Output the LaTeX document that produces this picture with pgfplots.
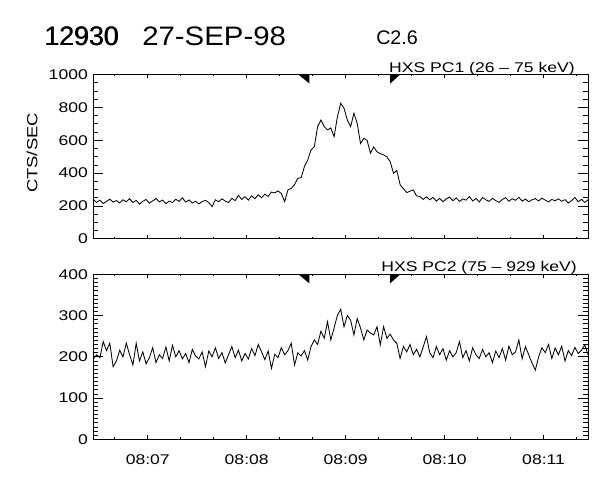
\documentclass[border=0pt]{standalone}
\usepackage{fontspec}
\setmainfont{Liberation Sans}[FakeStretch=1.25]
\newfontfamily\plainfont{Liberation Sans}
\newfontfamily\datefont{Liberation Sans}[FakeStretch=1.1]
\usepackage{pgfplots}
\pgfplotsset{compat=1.18}
\begin{document}
\begin{tikzpicture}
\path[use as bounding box] (0,0) rectangle (15cm,-12cm);
\pgfplotsset{
  hxs/.style={
    scale only axis, width=12.37cm, anchor=north west,
    xmin=0, xmax=300,
    axis line style={line width=0.7pt},
    tick style={black, line width=0.6pt},
    /pgf/number format/assume math mode=true,
    /pgf/number format/1000 sep={},
    tick label style={font=\fontsize{10}{11}\selectfont},
    yticklabel style={inner sep=0pt, xshift=-0.13cm},
    xticklabel style={inner sep=0pt, yshift=-0.37cm},
  },
  yaxisticks/.style={xtick=\empty, major tick length=7pt, minor tick length=3.5pt},
  xaxisticks/.style={ytick=\empty, xtick={33,93,153,213,273},
    minor xtick={13,53,73,113,133,173,193,233,253,293},
    major tick length=2.8pt, minor tick length=1.4pt},
}
% ---------------- top panel: PC1
\begin{axis}[hxs, yaxisticks, at={(2.333cm,-1.8625cm)}, height=4.11cm,
  ymin=0, ymax=1000, ytick={0,200,...,1000}, minor y tick num=3]
\addplot[black, line width=0.6pt, mark=none] coordinates {
(0,240)(2,222)(4,236)(6,215)(8,228)(10,242)(12,224)(14,233)(16,219)(18,238)
(20,226)(22,245)(24,221)(26,234)(28,212)(30,229)(32,240)(34,218)(36,231)(38,246)
(40,225)(42,236)(44,214)(46,230)(48,222)(50,241)(52,228)(54,250)(56,224)(58,237)
(60,218)(62,229)(64,213)(66,227)(68,235)(70,221)(72,196)(74,238)(76,226)(78,244)
(80,230)(82,221)(84,247)(86,233)(88,265)(90,240)(92,257)(94,236)(96,262)(98,245)
(100,268)(102,250)(104,272)(106,258)(108,285)(110,280)(112,292)(114,276)(116,227)(118,298)
(120,308)(122,330)(124,369)(126,372)(128,440)(130,480)(132,541)(134,561)(136,683)(138,723)
(140,683)(142,663)(144,675)(146,622)(148,743)(150,825)(152,795)(154,723)(156,683)(158,764)
(160,703)(162,580)(164,612)(166,600)(168,521)(170,560)(172,530)(174,519)(176,511)(178,499)
(180,470)(182,399)(184,417)(186,330)(188,305)(190,282)(192,290)(194,298)(196,262)(198,258)
(200,240)(202,256)(204,238)(206,252)(208,230)(210,247)(212,226)(214,244)(216,254)(218,232)
(220,249)(222,228)(224,243)(226,236)(228,258)(230,231)(232,246)(234,225)(236,252)(238,238)
(240,228)(242,247)(244,233)(246,222)(248,240)(250,251)(252,229)(254,244)(256,235)(258,253)
(260,230)(262,242)(264,226)(266,238)(268,245)(270,231)(272,248)(274,236)(276,225)(278,240)
(280,232)(282,244)(284,229)(286,239)(288,218)(290,233)(292,252)(294,226)(296,241)(298,222)
(300,238)};
\fill (axis cs:131,1000) -- ++(-0.275cm,0) -- ++(0.275cm,-0.225cm) -- cycle;
\fill (axis cs:180,1000) -- ++(0.25cm,0) -- ++(-0.25cm,-0.225cm) -- cycle;
\end{axis}
\begin{axis}[hxs, xaxisticks, at={(2.333cm,-1.8625cm)}, height=4.11cm,
  ymin=0, ymax=1000, xticklabels={}]
\end{axis}
% ---------------- bottom panel: PC2
\begin{axis}[hxs, yaxisticks, at={(2.333cm,-6.858cm)}, height=4.125cm,
  ymin=0, ymax=400, ytick={0,100,...,400}, minor y tick num=9]
\addplot[black, line width=0.6pt, mark=none] coordinates {
(0,195)(2,205)(4,198)(6,237)(8,215)(10,233)(12,176)(14,190)(16,216)(18,200)
(20,233)(22,205)(24,180)(26,233)(28,190)(30,212)(32,183)(34,198)(36,222)(38,186)
(40,205)(42,196)(44,224)(46,190)(48,228)(50,200)(52,215)(54,195)(56,208)(58,186)
(60,218)(62,202)(64,195)(66,212)(68,176)(70,214)(72,200)(74,222)(76,196)(78,210)
(80,185)(82,205)(84,225)(86,198)(88,216)(90,190)(92,208)(94,195)(96,220)(98,203)
(100,230)(102,212)(104,193)(106,214)(108,172)(110,206)(112,198)(114,222)(116,205)(118,215)
(120,233)(122,180)(124,210)(126,202)(128,215)(130,192)(132,225)(134,241)(136,230)(138,262)
(140,245)(142,285)(144,241)(146,270)(148,301)(150,315)(152,273)(154,300)(156,289)(158,253)
(160,293)(162,270)(164,241)(166,265)(168,258)(170,253)(172,273)(174,229)(176,273)(178,245)
(180,255)(182,241)(184,233)(186,196)(188,225)(190,212)(192,230)(194,205)(196,218)(198,200)
(200,224)(202,249)(204,210)(206,198)(208,225)(210,205)(212,220)(214,192)(216,215)(218,200)
(220,210)(222,237)(224,198)(226,215)(228,190)(230,222)(232,205)(234,196)(236,218)(238,200)
(240,210)(242,186)(244,214)(246,198)(248,220)(250,192)(252,226)(254,205)(256,212)(258,241)
(260,195)(262,225)(264,205)(266,185)(268,168)(270,200)(272,222)(274,210)(276,230)(278,196)
(280,221)(282,205)(284,226)(286,190)(288,215)(290,203)(292,223)(294,208)(296,216)(298,229)
(300,205)};
\fill (axis cs:131,400) -- ++(-0.275cm,0) -- ++(0.275cm,-0.225cm) -- cycle;
\fill (axis cs:180,400) -- ++(0.25cm,0) -- ++(-0.25cm,-0.225cm) -- cycle;
\end{axis}
\begin{axis}[hxs, xaxisticks, at={(2.333cm,-6.858cm)}, height=4.125cm,
  ymin=0, ymax=400, xticklabels={08:07,08:08,08:09,08:10,08:11}]
\end{axis}
% ---------------- texts
\node[anchor=base west, inner sep=0pt] at (1.1cm,-1.125cm) {\plainfont\fontsize{19}{21}\selectfont 12930};
\node[anchor=base west, inner sep=0pt] at (1.115cm,-1.125cm) {\plainfont\fontsize{19}{21}\selectfont 12930};
\node[anchor=base west, inner sep=0pt] at (3.55cm,-1.125cm) {\datefont\fontsize{19}{21}\selectfont 27-SEP-98};
\node[anchor=base west, inner sep=0pt] at (9.4cm,-1.1cm) {\plainfont\fontsize{14}{16}\selectfont C2.6};
\node[anchor=base east, inner sep=0pt] at (14.375cm,-1.8cm) {\fontsize{10}{12}\selectfont HXS PC1 (26 – 75 keV)};
\node[anchor=base east, inner sep=0pt] at (14.425cm,-6.775cm) {\fontsize{10}{12}\selectfont HXS PC2 (75 – 929 keV)};
\node[rotate=90, inner sep=0pt] at (0.8cm,-3.825cm) {\fontsize{10.5}{12}\selectfont CTS/SEC};
\end{tikzpicture}
\end{document}
